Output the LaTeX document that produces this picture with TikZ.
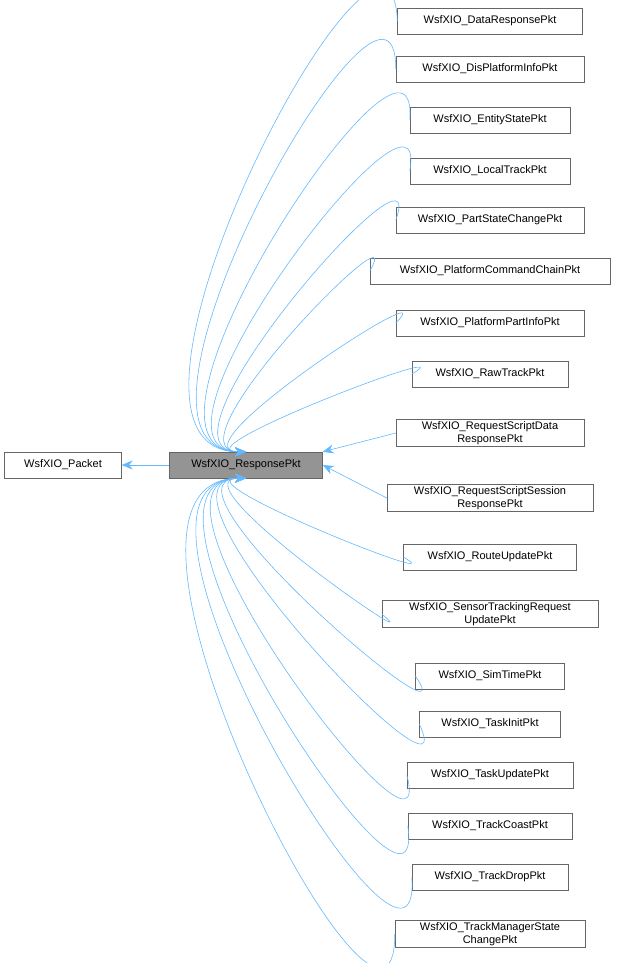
\documentclass[tikz,border=0pt]{standalone}
\usepackage{fontspec}
\setmainfont{Liberation Sans}
\usetikzlibrary{arrows.meta}
\definecolor{edgeColor}{HTML}{63B8FF}
\definecolor{boxColor}{HTML}{666666}
\tikzset{
	cls/.style={draw=boxColor, fill=white, inner sep=2pt, minimum height=26pt,
		align=center, font=\fontsize{11}{13}\selectfont},
	inh/.style={draw=edgeColor, semithick, {Stealth[length=11pt,width=9pt,fill=edgeColor]}-}
}
\begin{document}
\begin{tikzpicture}[x=1pt,y=-1pt]
	\useasboundingbox (0,0) rectangle (616,963);
	\node[cls, minimum width=117pt] (pkt) at (63,465) {WsfXIO\_Packet};
	\node[cls, minimum width=153pt, fill=boxColor!70] (rsp) at (246,465) {WsfXIO\_ResponsePkt};
	\draw[inh] (pkt.east) -- (rsp.west);
	% derived classes
	\foreach \name/\w/\y/\txt in {
		c1/185/21/{WsfXIO\_DataResponsePkt},
		c2/188/69/{WsfXIO\_DisPlatformInfoPkt},
		c3/160/120/{WsfXIO\_EntityStatePkt},
		c4/160/171/{WsfXIO\_LocalTrackPkt},
		c5/188/220/{WsfXIO\_PartStateChangePkt},
		c6/240/271/{WsfXIO\_PlatformCommandChainPkt},
		c7/188/323/{WsfXIO\_PlatformPartInfoPkt},
		c8/156/374/{WsfXIO\_RawTrackPkt},
		c9/188/433/{WsfXIO\_RequestScriptData\\ResponsePkt},
		c10/206/498/{WsfXIO\_RequestScriptSession\\ResponsePkt},
		c11/173/557/{WsfXIO\_RouteUpdatePkt},
		c12/216/614/{WsfXIO\_SensorTrackingRequest\\UpdatePkt},
		c13/149/676/{WsfXIO\_SimTimePkt},
		c14/141/724/{WsfXIO\_TaskInitPkt},
		c15/166/775/{WsfXIO\_TaskUpdatePkt},
		c16/164/826/{WsfXIO\_TrackCoastPkt},
		c17/156/877/{WsfXIO\_TrackDropPkt},
		c18/190/934/{WsfXIO\_TrackManagerState\\ChangePkt}}
		\node[cls, minimum width=\w pt] (\name) at (490,\y) {\txt};
	% inheritance edges
	\foreach \name/\in in {c1/92,c2/90,c3/86,c4/80,c5/70,c6/60,c7/45,c8/30}
		\draw[inh] (rsp.north) to[in=\in,out=180] (\name.west);
	\draw[inh] (rsp.north east) -- (c9.west);
	\draw[inh] (rsp.east) -- (c10.west);
	\foreach \name/\in in {c11/-30,c12/-40,c13/-55,c14/-65,c15/-75,c16/-82,c17/-86,c18/-90}
		\draw[inh] (rsp.south) to[in=\in,out=180] (\name.west);
\end{tikzpicture}
\end{document}
